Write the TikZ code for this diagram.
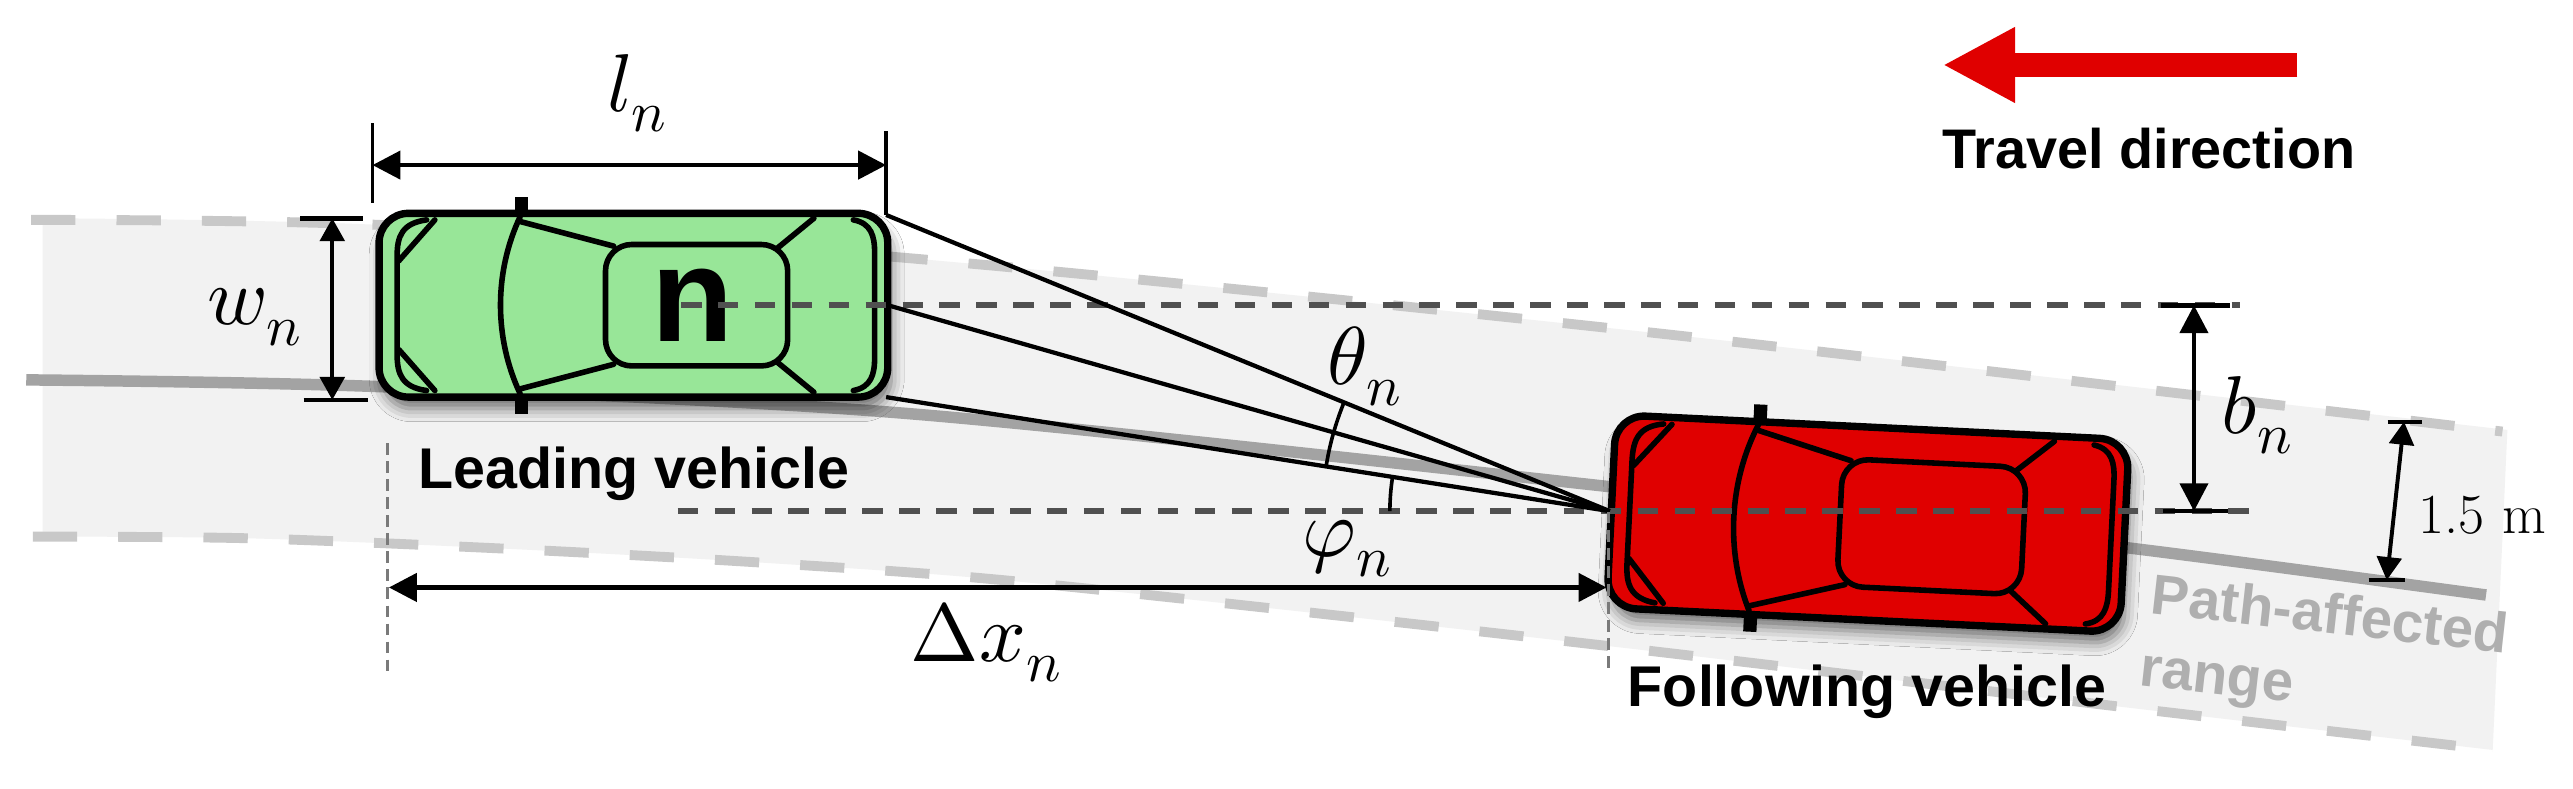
\documentclass[tikz,border=0pt]{standalone}
\usepackage{fontspec}
\usepackage{unicode-math}
\setmathfont{Latin Modern Math}
\newfontfamily\labsans{Liberation Sans}
\usetikzlibrary{arrows.meta,angles,shadows.blur}
\definecolor{roadfill}{HTML}{F2F2F2}
\definecolor{roaddashc}{HTML}{C8C8C8}
\definecolor{pathc}{HTML}{A3A3A3}
\definecolor{carGreen}{HTML}{98E698}
\definecolor{carRed}{HTML}{E00000}
\definecolor{ctrc}{HTML}{505050}
\definecolor{extc}{HTML}{7A7A7A}
\definecolor{rangec}{HTML}{AFAFAF}
\definecolor{travelred}{HTML}{E00000}
\tikzset{
  carline/.style={line width=3.4pt, line cap=round, line join=round},
  pics/car/.style={code={
    \path[blur shadow={shadow xshift=2pt, shadow yshift=-7pt, shadow blur radius=8pt, shadow opacity=55}, rounded corners=18pt] (-155,-56) rectangle (155,56);
    \fill[black] (-72,-66) rectangle (-64,66);
    \draw[line width=4.5pt, fill=#1, rounded corners=18pt] (-155,-56) rectangle (155,56);
    \draw[carline] (-126,-52) .. controls (-141,-50) and (-144,-42) .. (-144,-30) -- (-144,30) .. controls (-144,42) and (-141,50) .. (-126,52);
    \draw[carline] (-143,-27) -- (-121,-52);
    \draw[carline] (-143,27) -- (-121,52);
    \draw[carline] (-69,-54) .. controls (-85,-20) and (-85,20) .. (-69,54);
    \draw[carline] (-69,-51) -- (-12,-36);
    \draw[carline] (-69,51) -- (-12,36);
    \draw[carline, rounded corners=16pt] (-17,-37) rectangle (94,37);
    \draw[carline] (88,-35) -- (110,-53);
    \draw[carline] (88,35) -- (110,53);
    \draw[carline] (134,-52) .. controls (145,-50) and (147,-42) .. (147,-32) -- (147,32) .. controls (147,42) and (145,50) .. (134,52);
  }}
}
\begin{document}
\begin{tikzpicture}[x=1pt,y=-1pt,
  every node/.style={inner sep=0pt, outer sep=0pt},
  roaddash/.style={draw=roaddashc, line width=6pt, dash pattern=on 27pt off 25pt},
  pathline/.style={draw=pathc, line width=7pt},
  ctrdash/.style={draw=ctrc, line width=3.4pt, dash pattern=on 12.5pt off 10pt},
  extdash/.style={draw=extc, line width=1.8pt, dash pattern=on 7pt off 4pt},
  sight/.style={line width=2.6pt},
  dimline/.style={line width=2.8pt, {Triangle[length=17pt,width=17pt]}-{Triangle[length=17pt,width=17pt]}},
  dimsmall/.style={line width=2.4pt, {Triangle[length=14pt,width=15pt]}-{Triangle[length=14pt,width=15pt]}},
  tick/.style={line width=2.8pt},
  extline/.style={line width=2pt},
  mathlab/.style={font=\fontsize{50}{60}\selectfont, anchor=base west},
  vlab/.style={font=\labsans\bfseries\fontsize{35}{42}\selectfont, anchor=base west},
]
\useasboundingbox (0,0) rectangle (1568,480.8);
\fill[white] (0,0) rectangle (1568,480.8);

% road band
\fill[roadfill] plot[smooth] coordinates {(26,133) (230,137) (550,157) (1000,202) (1528,262)}
  -- (1519,458) -- plot[smooth] coordinates {(1519,457) (1300,431.6) (1000,396) (793,372.7) (600,352.5) (450,342) (300,334) (150,328) (26,327)} -- cycle;
\draw[roaddash] plot[smooth] coordinates {(19,134) (230,137) (550,157) (1000,202) (1525,263)};
\draw[roaddash] plot[smooth] coordinates {(20,327) (150,328) (300,334) (450,342) (600,352.5) (793,372.7) (1000,396) (1300,431.6) (1519,457)};
\draw[pathline] plot[smooth] coordinates {(16,231.5) (231,235.6) (553,252) (981,296.6) (1298,334) (1515,362.6)};

% cars
\pic at (386,186) {car=carGreen};
\pic[rotate=-2.8, xscale=1.01, yscale=1.05] at (1138.3,319.1) {car=carRed};
\node[font=\labsans\bfseries\fontsize{82}{90}\selectfont] (nlabel) at (422,186) {n};

% centre lines
\coordinate (upL) at (415,186);
\coordinate (upR) at (1365,186);
\coordinate (loL) at (413,311.5);
\coordinate (loR) at (1380,311.5);
\draw[ctrdash] (upL) -- (upR);
\draw[ctrdash] (loL) -- (loR);

% sight lines
\coordinate (apex) at (981,311.5);
\coordinate (gTR) at (540,131);
\coordinate (gR) at (541,186);
\coordinate (gBR) at (540,242);
\draw[sight] (gTR) -- (apex);
\draw[sight] (gR) -- (apex);
\draw[sight] (gBR) -- (apex);
\pic[draw, line width=2.2pt, angle radius=175pt] {angle=gTR--apex--gBR};
\pic[draw, line width=2.2pt, angle radius=134pt] {angle=gBR--apex--loL};
\node[mathlab] (theta) at (809,234.6) {$\theta_n$};
\node[mathlab] (phi) at (794,339) {$\varphi_n$};

% l_n
\coordinate (lnA) at (227,75);
\coordinate (lnB) at (227,124);
\coordinate (lnC) at (540,80);
\coordinate (lnL) at (227,100.6);
\coordinate (lnR) at (540,100.6);
\draw[extline] (lnA) -- (lnB);
\draw[extline] (lnC) -- (gTR);
\draw[dimline] (lnL) -- (lnR);
\node[mathlab] (ln) at (370,68) {$l_n$};

% w_n
\coordinate (wnT) at (202.5,133);
\coordinate (wnB) at (202.5,243.7);
\coordinate (wnT1) at (183,133);
\coordinate (wnT2) at (221,133);
\coordinate (wnB1) at (185,243.7);
\coordinate (wnB2) at (224,243.7);
\draw[tick] (wnT1) -- (wnT2);
\draw[tick] (wnB1) -- (wnB2);
\draw[dimsmall] (wnT) -- (wnB);
\node[mathlab] (wn) at (126.5,198) {$w_n$};

% b_n
\coordinate (bnT) at (1337,186);
\coordinate (bnB) at (1337,311.5);
\coordinate (bnT1) at (1317,186);
\coordinate (bnT2) at (1359,186);
\coordinate (bnB1) at (1318,311.5);
\coordinate (bnB2) at (1358,311.5);
\draw[tick] (bnT1) -- (bnT2);
\draw[tick] (bnB1) -- (bnB2);
\draw[dimline] (bnT) -- (bnB);
\node[mathlab] (bn) at (1354,264) {$b_n$};

% 1.5 m
\coordinate (mT) at (1465,257);
\coordinate (mB) at (1454.5,353.5);
\coordinate (mT1) at (1455,257);
\coordinate (mT2) at (1476,257);
\coordinate (mB1) at (1443.5,353.5);
\coordinate (mB2) at (1465.5,353.5);
\draw[line width=2.4pt] (mT1) -- (mT2);
\draw[line width=2.4pt] (mB1) -- (mB2);
\draw[dimsmall] (mT) -- (mB);
\node[anchor=base west, font=\fontsize{34.5}{40}\selectfont] (m15) at (1474,325) {1.5 m};

% Delta x_n
\coordinate (dxL0) at (236,270);
\coordinate (dxL1) at (236,410);
\coordinate (dxR0) at (980,312);
\coordinate (dxR1) at (980,409);
\draw[extdash] (dxL0) -- (dxL1);
\draw[extdash] (dxR0) -- (dxR1);
\coordinate (dxL) at (237,358);
\coordinate (dxR) at (979,358);
\draw[dimline] (dxL) -- (dxR);
\node[mathlab] (dx) at (555,403) {$\Delta x_n$};

% texts
\node[vlab] (lead) at (255,297.5) {Leading vehicle};
\node[vlab] (follow) at (992,430.5) {Following vehicle};
\node[vlab, text=rangec, rotate=-6.4, font=\labsans\bfseries\fontsize{34.5}{42}\selectfont] (path1) at (1310,373.7) {Path-affected};
\node[vlab, text=rangec, rotate=-6.4, font=\labsans\bfseries\fontsize{34.5}{42}\selectfont] (path2) at (1303,417.5) {range};

% travel direction
\coordinate (tvA) at (1400,39.6);
\coordinate (tvB) at (1184,39.6);
\draw[travelred, line width=14.6pt, -{Triangle[length=44pt,width=43pt]}] (tvA) -- (tvB);
\node[anchor=base west, font=\labsans\bfseries\fontsize{34}{40}\selectfont] (travel) at (1184,102.6) {Travel direction};
\end{tikzpicture}
\end{document}
